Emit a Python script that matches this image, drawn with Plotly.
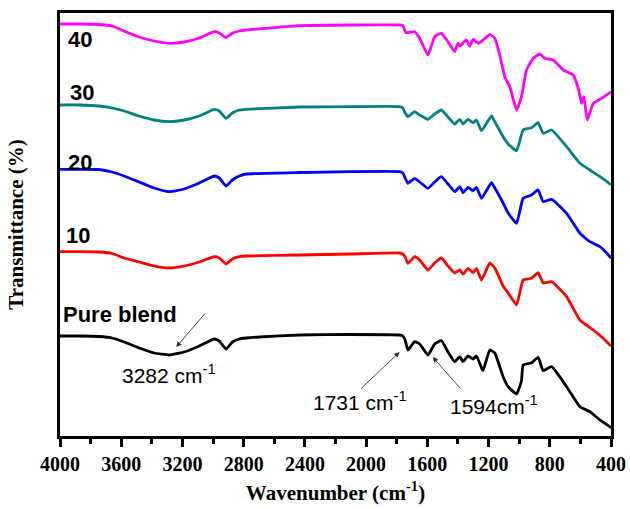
import plotly.graph_objects as go

# Wavenumber (cm-1) and transmittance (arbitrary offset units)
wn_blend = [4000, 3876, 3745, 3660, 3581, 3483, 3385, 3287, 3188, 3090, 2992, 2960, 2915, 2874, 2828, 2783, 2698, 2436, 2108,
            1781, 1760, 1745, 1727, 1683, 1650, 1596, 1552, 1508, 1465, 1421, 1388, 1367, 1334, 1301, 1279, 1246, 1236,
            1192, 1159, 1105, 1072, 1017, 985, 974, 919, 876, 843, 788, 690, 603, 538, 472, 407, 400]
t_blend = [100, 100, 99.5, 98, 94, 88, 83, 81, 84, 90, 97, 95, 87, 94, 97, 98, 99, 101, 101.5,
           101, 100, 96, 86, 94.3, 92, 81, 92, 95.3, 84, 74.3, 79.3, 74.3, 80, 77, 80, 68, 65.3,
           86, 83, 59.3, 49.3, 42, 55, 71, 73.3, 78.7, 65.3, 69.3, 49.3, 29.3, 24.3, 16, 9.3, 8]

wn_10 = [4000, 3876, 3745, 3660, 3581, 3483, 3385, 3287, 3188, 3090, 2992, 2960, 2915, 2874, 2828, 2783, 2436, 2108,
         1781, 1760, 1745, 1727, 1683, 1650, 1596, 1552, 1508, 1465, 1421, 1388, 1367, 1334, 1301, 1279, 1246,
         1192, 1159, 1105, 1072, 1017, 974, 919, 876, 843, 788, 690, 603, 516, 453, 407, 400]
t_10 = [184.3, 184.3, 184, 182.5, 178, 174, 170, 168, 170, 174, 179.3, 178, 172, 177, 179.3, 180, 181, 182,
        183, 182, 179, 172.7, 179.3, 176, 166, 173, 178, 170, 163, 166, 162, 167.7, 163.3, 167.7, 156,
        173, 168, 150, 143, 131, 156, 157.7, 163.3, 153, 154.3, 139.3, 116, 106, 98, 91, 90]

wn_20 = [4000, 3876, 3745, 3660, 3581, 3483, 3385, 3287, 3188, 3090, 2992, 2960, 2915, 2874, 2828, 2783, 2436, 2108,
         1781, 1760, 1745, 1727, 1683, 1650, 1596, 1552, 1508, 1465, 1421, 1388, 1367, 1334, 1301, 1279, 1246,
         1181, 1159, 1105, 1072, 1017, 974, 919, 876, 843, 788, 690, 603, 538, 472, 407, 400]
t_20 = [266.7, 266.7, 266.5, 264, 260, 254, 248, 244.3, 247, 253, 260, 258, 250, 256, 260, 262, 263.5, 264.3,
        264.3, 263, 258, 252.7, 257.7, 254, 247.7, 254, 259.3, 252, 244.3, 249.3, 243.3, 248.7, 245.3, 248.7, 237.7,
        253.3, 248, 233, 223, 212.7, 237.7, 241, 246, 234.3, 236.7, 222.7, 202.7, 194.3, 189.3, 179.3, 178]

wn_30 = [4000, 3876, 3745, 3660, 3581, 3483, 3385, 3287, 3188, 3090, 2992, 2960, 2915, 2874, 2828, 2783, 2436, 2108,
         1781, 1760, 1745, 1727, 1683, 1650, 1596, 1552, 1508, 1465, 1421, 1388, 1367, 1334, 1301, 1279, 1246,
         1181, 1159, 1105, 1072, 1017, 974, 919, 876, 843, 788, 690, 603, 538, 472, 407, 400]
t_30 = [331, 331, 330, 328, 325, 320, 316, 314.3, 316, 320, 326.7, 325, 317.7, 323, 326, 326.7, 329, 329.3,
        329.3, 328, 323, 319.3, 324.3, 321, 316.7, 322, 326, 319, 312, 316.7, 312, 316.7, 313.3, 316, 305.3,
        320, 314.3, 299.3, 292, 285.3, 306, 308.3, 313.3, 302.7, 306, 289.3, 272.7, 266, 259.3, 252, 251]

wn_40 = [4000, 3876, 3745, 3660, 3581, 3483, 3385, 3287, 3188, 3090, 2992, 2960, 2915, 2874, 2828, 2783, 2436, 2108,
         1781, 1760, 1740, 1683, 1650, 1596, 1552, 1508, 1465, 1421, 1401, 1388, 1345, 1323, 1301, 1268, 1236,
         1192, 1159, 1127, 1094, 1061, 1017, 985, 952, 908, 865, 832, 778, 712, 647, 614, 592, 577, 555, 516, 472, 407, 400]
t_40 = [412, 412, 411.5, 410, 405, 399, 395, 392.7, 394, 398, 404.3, 403, 398.3, 402.7, 405, 406, 410.3, 411,
        411, 410.5, 403.3, 404.3, 397.7, 381, 399.3, 402.7, 394.3, 384.3, 392.7, 390, 396, 390, 396.7, 392.7, 396,
        401.7, 397.7, 381, 359.3, 349.3, 326, 339.3, 366, 377.7, 382, 377.7, 376, 366, 361, 347.7, 332.7, 339.3, 316, 332.7, 336.7, 343.3, 344]

series = [
    (wn_blend, t_blend, "black", "Pure blend"),
    (wn_10, t_10, "#FF0000", "10"),
    (wn_20, t_20, "#0000FF", "20"),
    (wn_30, t_30, "#008080", "30"),
    (wn_40, t_40, "#FF00FF", "40"),
]

# Label texts and their anchor positions (wavenumber, value)
label_texts = ["40", "30", "20", "10", "Pure blend"]
label_x = [3869, 3856, 3869, 3882, 3607]
label_y = [397, 344, 274, 201, 122]

peak_texts = ["3282 cm<sup>-1</sup>", "1731 cm<sup>-1</sup>", "1594cm<sup>-1</sup>"]
peak_text_x = [3287, 2043, 1166]
peak_text_y = [62, 35, 31]
arrow_tail_x = [3044, 2043, 1375]
arrow_tail_y = [124, 46, 46]
arrow_head_x = [3241, 1781, 1565]
arrow_head_y = [89, 84, 79]

fig = go.Figure()
for wn, t, col, name in series:
    fig.add_trace(go.Scatter(x=wn, y=t, mode="lines", name=name,
                             line=dict(color=col, width=2.8, shape="spline", smoothing=0.4),
                             showlegend=False))

sans = "Liberation Sans, Arial, sans-serif"
serif = "Liberation Serif, Times New Roman, serif"

for txt, x, y in zip(label_texts, label_x, label_y):
    fig.add_annotation(x=x, y=y, text=txt, showarrow=False, xanchor="center", yanchor="middle",
                       font=dict(family=sans, size=22, color="black", weight="bold"))

for txt, x, y in zip(peak_texts, peak_text_x, peak_text_y):
    fig.add_annotation(x=x, y=y, text=txt, showarrow=False, xanchor="center", yanchor="middle",
                       font=dict(family=sans, size=21, color="black"))

for tx, ty, hx, hy in zip(arrow_tail_x, arrow_tail_y, arrow_head_x, arrow_head_y):
    fig.add_annotation(x=hx, y=hy, ax=tx, ay=ty, xref="x", yref="y", axref="x", ayref="y",
                       text="", showarrow=True, arrowhead=2, arrowsize=1.2, arrowwidth=0.9,
                       arrowcolor="#333333")

fig.update_layout(
    width=630, height=509,
    margin=dict(l=60, r=19, t=13, b=73, autoexpand=False),
    plot_bgcolor="white", paper_bgcolor="white",
    xaxis=dict(
        range=[4000, 400], tickmode="linear", tick0=400, dtick=400, automargin=False,
        ticks="outside", ticklen=8, tickwidth=2.5, tickcolor="black",
        showline=True, linewidth=3, linecolor="black", mirror=True,
        showgrid=False, zeroline=False,
        minor=dict(dtick=200, tick0=400, ticks="outside", ticklen=5, tickwidth=2.5, tickcolor="black", showgrid=False),
        tickfont=dict(family=serif, size=20, color="black", weight="bold"),
        title=dict(text="Wavenumber (cm<sup>-1</sup>)", standoff=12,
                   font=dict(family=serif, size=21, color="black", weight="bold")),
    ),
    yaxis=dict(
        range=[0, 423], showticklabels=False, ticks="", automargin=False,
        showline=True, linewidth=3, linecolor="black", mirror=True,
        showgrid=False, zeroline=False,
        title=dict(text="Transmittance (%)", standoff=28,
                   font=dict(family=serif, size=21, color="black", weight="bold")),
    ),
)

fig.write_html("out.html")
